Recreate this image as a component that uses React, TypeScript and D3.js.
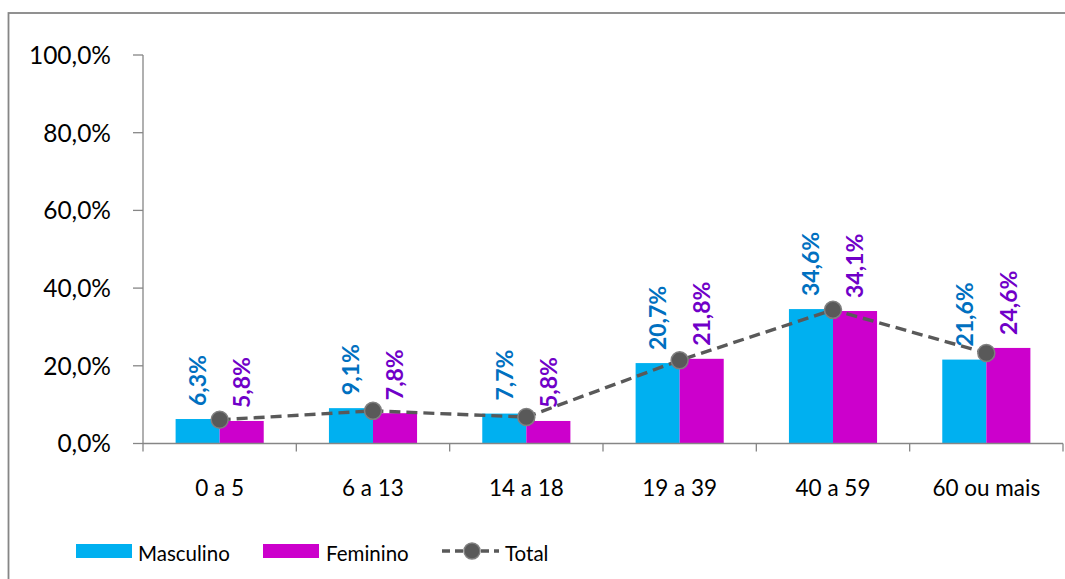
import React from "react";
import * as d3 from "d3";

const categories = ["0 a 5", "6 a 13", "14 a 18", "19 a 39", "40 a 59", "60 ou mais"];
const masculino = [6.3, 9.1, 7.7, 20.7, 34.6, 21.6];
const feminino = [5.8, 7.8, 5.8, 21.8, 34.1, 24.6];
const total = [6.1, 8.4, 6.8, 21.4, 34.4, 23.3];
const yTicks = [0, 20, 40, 60, 80, 100];
const seriesNames = ["Masculino", "Feminino"];

const W = 1065;
const H = 579;
const FONT = "Lato, 'Open Sans', sans-serif";
const AXIS = "#868686";
const C_M = "#00B0F0";
const C_F = "#CC00CC";
const L_M = "#0070C0";
const L_F = "#7000C8";
const LINE = "#595959";

const fmt = (v: number) => d3.format(".1f")(v).replace(".", ",") + "%";

export default function App() {
  const left = 143, right = 1063, top = 55, bottom = 443.5;
  const x = d3.scaleBand<string>().domain(categories).range([left, right]).paddingInner(0).paddingOuter(0);
  const x1 = d3.scaleBand<string>().domain(seriesNames).range([0, x.bandwidth()]).paddingInner(0).paddingOuter(0.74);
  const y = d3.scaleLinear().domain([0, 100]).range([bottom, top]);
  const bw = x1.bandwidth();
  const line = d3.line<number>()
    .x((_, i) => (x(categories[i]) as number) + x.bandwidth() / 2)
    .y((d) => y(d));

  const series = [
    { name: "Masculino", values: masculino, color: C_M, label: L_M },
    { name: "Feminino", values: feminino, color: C_F, label: L_F },
  ];

  return (
    <svg width={W} height={H} style={{ position: "absolute", left: 0, top: 0, background: "#fff" }} fontFamily={FONT}>
      <rect x={8.5} y={13} width={W + 20} height={H + 20} fill="#fff" stroke={AXIS} strokeWidth={1.8} />
      {/* y axis */}
      <line x1={left} x2={left} y1={top} y2={bottom} stroke={AXIS} strokeWidth={1.3} />
      {yTicks.map((t) => (
        <g key={t}>
          <line x1={left - 10} x2={left} y1={y(t)} y2={y(t)} stroke={AXIS} strokeWidth={1.3} />
          <text x={111} y={y(t)} dy="0.36em" textAnchor="end" fontSize={24.5} fill="#000">{fmt(t)}</text>
        </g>
      ))}
      {/* bars */}
      {series.map((s) =>
        s.values.map((v, i) => (
          <rect key={s.name + i} x={(x(categories[i]) as number) + (x1(s.name) as number)} y={y(v)} width={bw} height={y(0) - y(v)} fill={s.color} />
        ))
      )}
      {/* x axis */}
      <line x1={left} x2={right} y1={bottom} y2={bottom} stroke={AXIS} strokeWidth={1.3} />
      {categories.concat([""]).map((c, i) => {
        const xx = left + i * x.bandwidth();
        return <line key={"t" + i} x1={xx} x2={xx} y1={bottom} y2={bottom + 8} stroke={AXIS} strokeWidth={1.3} />;
      })}
      {categories.map((c) => (
        <text key={c} x={(x(c) as number) + x.bandwidth() / 2} y={496} textAnchor="middle" fontSize={22.5} fill="#000">{c}</text>
      ))}
      {/* total line */}
      <path d={line(total) || ""} fill="none" stroke={LINE} strokeWidth={3.4} strokeDasharray="11,6" />
      {total.map((v, i) => (
        <circle key={"c" + i} cx={(x(categories[i]) as number) + x.bandwidth() / 2} cy={y(v)} r={8.5} fill={LINE} stroke="#808080" strokeWidth={1.5} />
      ))}
      {/* labels */}
      {series.map((s) =>
        s.values.map((v, i) => {
          const cx = (x(categories[i]) as number) + (x1(s.name) as number) + bw / 2;
          const cy = y(v) - 13;
          return (
            <text key={"l" + s.name + i} transform={`translate(${cx},${cy}) rotate(-90)`} dy="0.36em" textAnchor="start" fontSize={23} fontWeight="bold" fill={s.label}>
              {fmt(v)}
            </text>
          );
        })
      )}
      {/* legend */}
      <rect x={76} y={544} width={56} height={14} fill={C_M} />
      <text x={138} y={561} fontSize={20.5} fill="#000">Masculino</text>
      <rect x={263} y={544} width={56} height={14} fill={C_F} />
      <text x={326} y={561} fontSize={20.5} fill="#000">Feminino</text>
      <line x1={442} x2={499} y1={551} y2={551} stroke={LINE} strokeWidth={3.4} strokeDasharray="8,5" />
      <circle cx={472} cy={551} r={8} fill={LINE} stroke="#808080" strokeWidth={1.5} />
      <text x={505} y={561} fontSize={20.5} fill="#000">Total</text>
    </svg>
  );
}
